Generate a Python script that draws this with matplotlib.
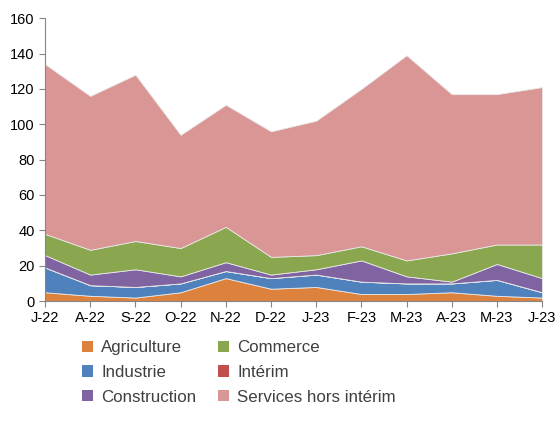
import numpy as np
import matplotlib
matplotlib.use("Agg")
import matplotlib.pyplot as plt
from matplotlib.patches import Patch

plt.rcParams['font.family'] = ['Liberation Sans', 'DejaVu Sans']

months = ["J-22", "A-22", "S-22", "O-22", "N-22", "D-22",
          "J-23", "F-23", "M-23", "A-23", "M-23", "J-23"]

agriculture = [5, 3, 2, 5, 13, 7, 8, 4, 4, 5, 3, 2]
industrie = [14, 6, 6, 5, 4, 6, 7, 7, 6, 5, 9, 3]
interim = [0, 0, 0, 0, 0, 0, 0, 0, 0, 0, 0, 0]
construction = [7, 6, 10, 4, 5, 2, 3, 12, 4, 1, 9, 8]
commerce = [12, 14, 16, 16, 20, 10, 8, 8, 9, 16, 11, 19]
services = [96, 87, 94, 64, 69, 71, 76, 89, 116, 90, 85, 89]

series = [agriculture, industrie, interim, construction, commerce, services]
names = ["Agriculture", "Industrie", "Intérim", "Construction", "Commerce",
         "Services hors intérim"]
colors = ["#DD823D", "#4F81BD", "#C0504D", "#8064A2", "#8AA64E", "#D99694"]

fig = plt.figure(figsize=(5.56, 4.32), dpi=100)
ax = fig.add_axes([0.081, 0.303, 0.894, 0.655])

x = np.arange(len(months))
ax.stackplot(x, *series, colors=colors, edgecolor="#e8e8e8", linewidth=0.6)

ax.set_xlim(0, len(months) - 1)
ax.set_ylim(0, 160)
ax.set_yticks(np.arange(0, 161, 20))
ax.set_xticks(x)
ax.set_xticklabels(months)

for s in ["top", "right"]:
    ax.spines[s].set_visible(False)
for s in ["left", "bottom"]:
    ax.spines[s].set_color("#868686")
ax.tick_params(axis="both", colors="#868686", labelcolor="black", labelsize=10.5,
               length=4, direction="out")
ax.tick_params(axis="x", pad=3)

# legend in two columns, same order as the reference
handles = [Patch(facecolor=c) for c in colors]
order = [0, 1, 3, 4, 2, 5]
leg = fig.legend([handles[i] for i in order], [names[i] for i in order],
                 ncol=2, loc="upper left", bbox_to_anchor=(0.12, 0.248),
                 frameon=False, fontsize=12.2, handlelength=0.65, handleheight=0.65,
                 handletextpad=0.5, columnspacing=1.25, labelspacing=0.58)
for t in leg.get_texts():
    t.set_color("#404040")

fig.savefig("out.png", dpi=100)
